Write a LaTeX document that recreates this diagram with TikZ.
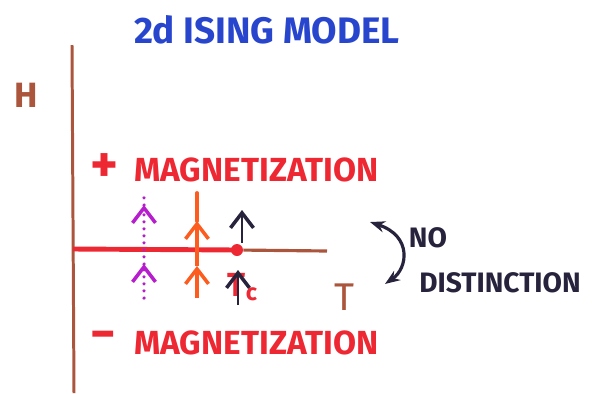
\documentclass[tikz,border=0pt]{standalone}
\usepackage{fontspec}
\setmainfont{Fira Sans}
\usetikzlibrary{arrows.meta, positioning}
\definecolor{inkblue}{RGB}{40,70,205}
\definecolor{inkbrown}{RGB}{170,85,60}
\definecolor{inkred}{RGB}{238,40,50}
\definecolor{inkorange}{RGB}{252,92,30}
\definecolor{inkpurple}{RGB}{182,30,205}
\definecolor{inkblack}{RGB}{40,35,60}

\begin{document}
\begin{tikzpicture}[x=0.02cm, y=-0.02cm,
  hand/.style={font=\bfseries\fontsize{19}{19}\selectfont, inner sep=0pt, text=#1},
  spin/.style={line width=2pt, -{Straight Barb[length=3mm, width=4.6mm, line width=2pt]}},
  flip/.style={{Stealth[length=3mm]}-{Stealth[length=3mm]}, line width=1.8pt, inkblack},
]
  \useasboundingbox (0,0) rectangle (592,393);

  % title
  \node[hand=inkblue, font=\bfseries\fontsize{21}{21}\selectfont] (title) at (267,30) {2d ISING MODEL};

  % axes
  \coordinate (htop) at (72,45);
  \coordinate (hbot) at (74,393);
  \coordinate (origin) at (73,249);
  \coordinate (tend) at (327,251);
  \node[circle, fill=inkred, inner sep=0pt, minimum size=0.24cm] (crit) at (237,250) {};
  \draw[inkbrown, line width=1.7pt] (htop) -- (hbot);
  \draw[inkbrown, line width=1.8pt] (crit) -- (tend);
  \draw[inkred, line width=2.8pt] (origin) -- (crit.center);

  \node[hand=inkbrown, font=\bfseries\fontsize{20}{20}\selectfont] (hlabel) at (26,95) {H};
  \node[hand=inkbrown, font=\fontsize{22}{22}\selectfont] (tlabel) at (344,297) {T};
  \node[hand=inkred, font=\bfseries\fontsize{19}{19}\selectfont] (tclabel) at (243,287) {T\textsubscript{c}};

  % magnetization regions
  \node[hand=inkred, font=\bfseries\fontsize{30}{30}\selectfont] (plus) at (104,168) {+};
  \node[hand=inkred, anchor=west] (magup) at (134,170) {MAGNETIZATION};
  \node[hand=inkred, font=\bfseries\fontsize{28}{28}\selectfont] (minus) at (103,341) {\char"2212};
  \node[hand=inkred, anchor=west] (magdown) at (134,343) {MAGNETIZATION};

  % purple path (dotted)
  \coordinate (pbot) at (144,298);
  \coordinate (ptipa) at (144,264);
  \coordinate (ptipb) at (144,205);
  \coordinate (ptop) at (144,191);
  \draw[inkpurple, spin, line cap=round, dash pattern=on 0pt off 4pt] (pbot) -- (ptipa);
  \draw[inkpurple, spin, line cap=round, dash pattern=on 0pt off 4pt] (ptipa) -- (ptipb);
  \draw[inkpurple, line width=2pt, line cap=round, dash pattern=on 0pt off 4pt] (ptipb) -- (ptop);

  % orange path
  \coordinate (obot) at (197,298);
  \coordinate (otipa) at (197,266);
  \coordinate (otipb) at (197,221);
  \coordinate (otop) at (197,193);
  \draw[inkorange, spin] (obot) -- (otipa);
  \draw[inkorange, spin] (otipa) -- (otipb);
  \draw[inkorange, line width=2.2pt, line cap=round] (otipb) -- (otop);

  % at the critical point
  \coordinate (kbase) at (242,243);
  \coordinate (kup) at (242,210);
  \coordinate (klow) at (238,305);
  \coordinate (klowtip) at (238,270);
  \draw[inkblack, spin, line width=1.6pt] (kbase) -- (kup);
  \draw[inkblack, spin, line width=1.6pt] (klow) -- (klowtip);

  % no distinction
  \coordinate (nda) at (370,222);
  \coordinate (ndb) at (385,284);
  \draw[flip] (nda) .. controls (412,236) and (408,268) .. (ndb);
  \node[hand=inkblack, font=\bfseries\fontsize{16}{16}\selectfont] (nolabel) at (428,238) {NO};
  \node[hand=inkblack, font=\bfseries\fontsize{16}{16}\selectfont] (dislabel) at (500,283) {DISTINCTION};
\end{tikzpicture}
\end{document}
